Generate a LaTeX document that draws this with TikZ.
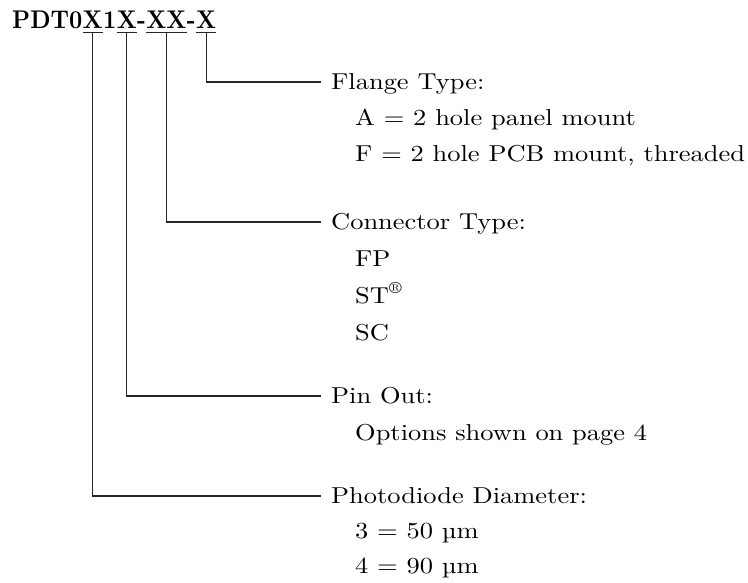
\documentclass[tikz,border=0pt]{standalone}
\usepackage{fontspec}
\setmainfont{lmroman10}[Extension=.otf, UprightFont=*-regular, BoldFont=*-bold, FakeStretch=1.15]
\newfontfamily\titlefont{lmroman10}[Extension=.otf, UprightFont=*-bold, FakeStretch=0.9]
\usetikzlibrary{positioning}

\begin{document}
\begin{tikzpicture}[
        x=1pt, y=-1pt,
        ttl/.style={font=\titlefont\fontsize{25.6}{30}\selectfont, inner sep=0, anchor=base west},
        lbl/.style={font=\fontsize{23}{27}\selectfont, inner sep=0, anchor=base west},
        lead/.style={line width=1.1pt, black!85}
    ]
        \useasboundingbox (0,0) rectangle (748,582);

        % Part number, split so each field can be underlined
        \node[ttl] (pre) at (12,28) {PDT0};
        \node[ttl] (xa) at (pre.base east) {X};
        \node[ttl] (one) at (xa.base east) {1};
        \node[ttl] (xb) at (one.base east) {X};
        \node[ttl] (da) at (xb.base east) {-};
        \node[ttl] (xc) at (da.base east) {XX};
        \node[ttl] (db) at (xc.base east) {-};
        \node[ttl] (xd) at (db.base east) {X};

        \foreach \f in {xa, xb, xc, xd}
            \draw[lead] ([yshift=-4pt]\f.south west) -- ([yshift=-4pt]\f.south east);

        % Flange type
        \node[lbl] (flange) at (331,89) {Flange Type:};
        \node[lbl] (flA) at ([shift={(24pt,-36pt)}]flange.base west) {A = 2 hole panel mount};
        \node[lbl] (flF) at ([shift={(0pt,-36pt)}]flA.base west) {F = 2 hole PCB mount, threaded};

        % Connector type
        \node[lbl] (conn) at (331,229) {Connector Type:};
        \node[lbl] (cFP) at ([shift={(24pt,-37pt)}]conn.base west) {FP};
        \node[lbl] (cST) at ([shift={(0pt,-37pt)}]cFP.base west) {ST\textsuperscript{®}};
        \node[lbl] (cSC) at ([shift={(0pt,-37pt)}]cST.base west) {SC};

        % Pin out
        \node[lbl] (pin) at (331,403) {Pin Out:};
        \node[lbl] (pinopt) at ([shift={(24pt,-37pt)}]pin.base west) {Options shown on page 4};

        % Photodiode diameter
        \node[lbl] (photo) at (331,503) {Photodiode Diameter:};
        \node[lbl] (ph3) at ([shift={(24pt,-35pt)}]photo.base west) {3 = 50 µm};
        \node[lbl] (ph4) at ([shift={(0pt,-35pt)}]ph3.base west) {4 = 90 µm};

        % Leaders from each field to its label
        \draw[lead] ([yshift=-4pt]xd.south) |- ([shift={(-10pt,7pt)}]flange.base west);
        \draw[lead] ([yshift=-4pt]xc.south) |- ([shift={(-10pt,7pt)}]conn.base west);
        \draw[lead] ([yshift=-4pt]xb.south) |- ([shift={(-10pt,7pt)}]pin.base west);
        \draw[lead] ([yshift=-4pt]xa.south) |- ([shift={(-10pt,7pt)}]photo.base west);
    \end{tikzpicture}
\end{document}
